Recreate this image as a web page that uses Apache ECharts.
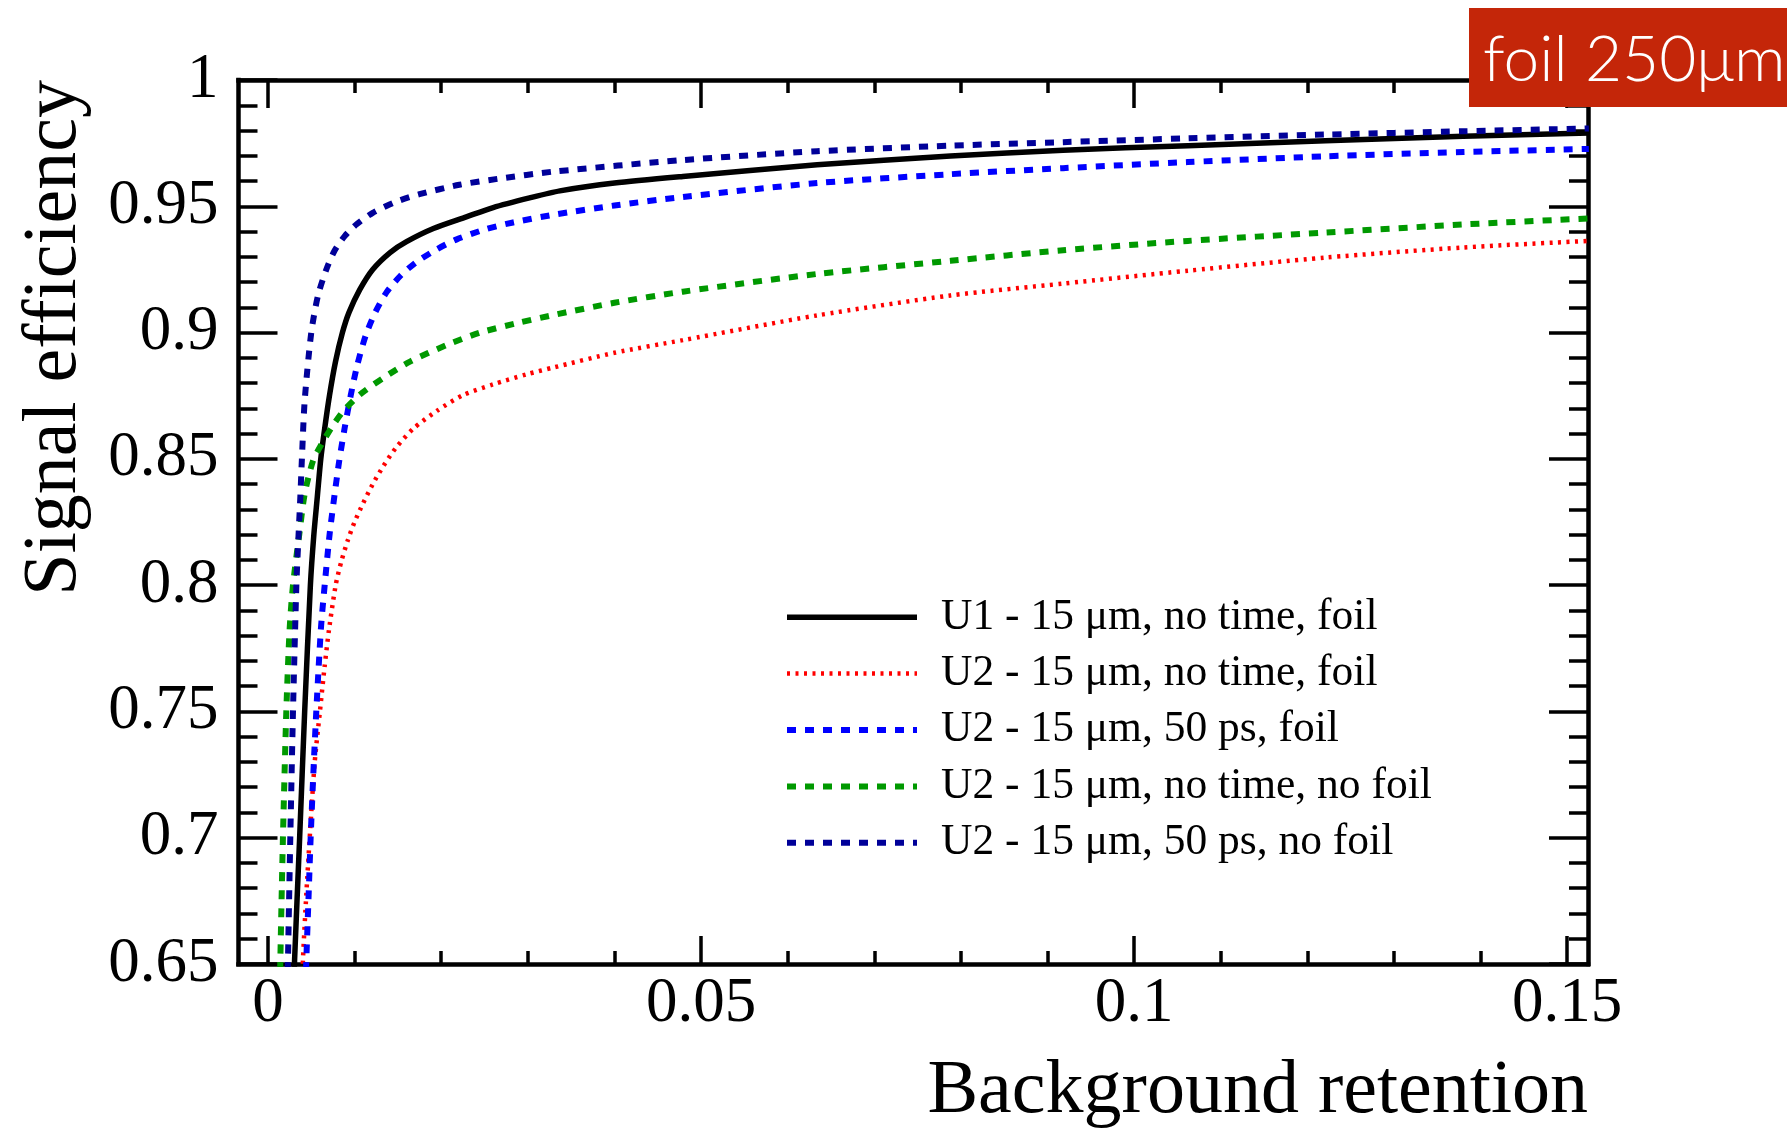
<!DOCTYPE html>
<html>
<head>
<meta charset="utf-8">
<script src="https://cdn.jsdelivr.net/npm/echarts@6/dist/echarts.min.js"></script>
<style>
html,body{margin:0;padding:0;background:#fff;}
#chart{width:1787px;height:1130px;}
</style>
</head>
<body>
<div id="chart"></div>
<script>
// ---- data ([background retention, signal efficiency]) ----
const seriesNames = [
  'U1 - 15 μm, no time, foil',
  'U2 - 15 μm, no time, foil',
  'U2 - 15 μm, 50 ps, foil',
  'U2 - 15 μm, no time, no foil',
  'U2 - 15 μm, 50 ps, no foil'
];
const u1NoTimeFoil = [
  [0.00300,0.640],[0.00308,0.652],[0.00366,0.700],[0.00424,0.750],[0.00490,0.800],
  [0.00530,0.820],[0.00570,0.835],[0.00610,0.850],[0.00655,0.862],[0.00710,0.875],
  [0.00780,0.8885],[0.00860,0.900],[0.00936,0.908],[0.0106,0.917],[0.0121,0.925],
  [0.0141,0.9317],[0.0160,0.9360],[0.0191,0.9412],[0.0229,0.9458],[0.0260,0.9495],
  [0.0302,0.9533],[0.0337,0.9561],[0.0400,0.9592],[0.0479,0.9618],[0.0634,0.9664],
  [0.0788,0.9699],[0.0918,0.9722],[0.1062,0.9740],[0.1221,0.9759],[0.1380,0.9777],
  [0.1525,0.9790]
];
const u2NoTimeFoil = [
  [0.00400,0.640],[0.00404,0.6515],[0.00443,0.6777],[0.00482,0.700],[0.00540,0.730],
  [0.00600,0.750],[0.00655,0.7680],[0.00705,0.7824],[0.00782,0.800],[0.00848,0.8095],
  [0.00924,0.8180],[0.0100,0.8250],[0.0110,0.8325],[0.0121,0.8400],[0.0133,0.8470],
  [0.0148,0.8545],[0.0168,0.8620],[0.0195,0.8690],[0.0225,0.8752],[0.0260,0.8795],
  [0.0299,0.8835],[0.0330,0.8862],[0.0400,0.8920],[0.0479,0.8970],[0.0634,0.9068],
  [0.0788,0.9147],[0.0918,0.9194],[0.1062,0.9245],[0.1221,0.9297],[0.1380,0.9337],
  [0.1525,0.9363]
];
const u2Ps50Foil = [
  [0.00435,0.640],[0.00443,0.6515],[0.00470,0.6777],[0.00493,0.700],[0.00530,0.730],
  [0.00558,0.750],[0.00586,0.768],[0.00614,0.784],[0.00655,0.800],[0.00713,0.8205],
  [0.00770,0.836],[0.00822,0.849],[0.00886,0.8623],[0.00955,0.875],[0.0103,0.887],
  [0.0113,0.899],[0.0124,0.9081],[0.0137,0.916],[0.0153,0.9225],[0.0171,0.9278],
  [0.0195,0.933],[0.0218,0.9369],[0.0252,0.941],[0.0283,0.9436],[0.0329,0.9466],
  [0.0400,0.9503],[0.0479,0.9537],[0.0634,0.9592],[0.0788,0.9627],[0.0918,0.9651],
  [0.1062,0.9675],[0.1221,0.9698],[0.1380,0.9715],[0.1525,0.9727]
];
const u2NoTimeNoFoil = [
  [0.00138,0.640],[0.00143,0.6515],[0.00173,0.700],[0.00212,0.750],[0.00250,0.7824],
  [0.00289,0.800],[0.00358,0.8191],[0.00424,0.8361],[0.00520,0.8492],[0.00617,0.8557],
  [0.00732,0.8623],[0.00870,0.8689],[0.0106,0.8754],[0.0133,0.882],[0.0164,0.8885],
  [0.0206,0.8950],[0.0245,0.9000],[0.0291,0.9040],[0.0333,0.9072],[0.0400,0.9118],
  [0.0479,0.9162],[0.0634,0.9232],[0.0788,0.9284],[0.0918,0.9326],[0.1062,0.9363],
  [0.1221,0.9396],[0.1380,0.9428],[0.1525,0.9452]
];
const u2Ps50NoFoil = [
  [0.00225,0.640],[0.00231,0.6515],[0.00258,0.700],[0.00289,0.750],[0.00328,0.800],
  [0.00347,0.8152],[0.00374,0.835],[0.00392,0.850],[0.00424,0.873],[0.00500,0.900],
  [0.00578,0.9147],[0.00675,0.9251],[0.00770,0.9325],[0.00886,0.9382],[0.0102,0.9428],
  [0.0121,0.9474],[0.0148,0.9518],[0.0175,0.9548],[0.0221,0.9585],[0.0268,0.9610],
  [0.0329,0.9637],[0.0479,0.9683],[0.0634,0.9718],[0.0788,0.9740],[0.0918,0.9754],
  [0.1062,0.9769],[0.1221,0.9784],[0.1380,0.9797],[0.1525,0.9808]
];
const xTickLabels = [0, 0.05, 0.1, 0.15];
const xMajorTicks = [0, 0.05, 0.1, 0.15];
const xMinorTicks = [0.01,0.02,0.03,0.04,0.06,0.07,0.08,0.09,0.11,0.12,0.13,0.14];

// ---- chart ----
const serif = '"Liberation Serif","Times New Roman",Times,serif';
const xMin = -0.0034, xMax = 0.1524;
const axisLineStyle = {color:'#000', width:4.5, cap:'square'};
const tickStyle = {color:'#000', width:3.5};

function xAxisDef(pos, ticks, len, withLine, withLabel) {
  return {
    type:'value', position:pos, min:xMin, max:xMax,
    axisLine:{show:withLine, onZero:false, lineStyle:axisLineStyle},
    axisTick:{show:true, inside:true, length:len, customValues:ticks, lineStyle:tickStyle},
    axisLabel: withLabel ? {show:true, customValues:xTickLabels, margin:9,
      fontFamily:serif, fontSize:63, color:'#000'} : {show:false},
    splitLine:{show:false}
  };
}
const xAxes = [
  xAxisDef('bottom', xMajorTicks, 28, true, true),
  xAxisDef('bottom', xMinorTicks, 13, false, false),
  xAxisDef('top', xMajorTicks, 28, true, false),
  xAxisDef('top', xMinorTicks, 13, false, false)
];
Object.assign(xAxes[0], {
  name:'Background retention', nameLocation:'end', nameGap:0, nameMoveOverlap:false,
  nameTextStyle:{fontFamily:serif, fontSize:76, color:'#000', align:'right',
    verticalAlign:'top', padding:[90,0,0,0]}
});

function yAxisDef(pos, withLabel) {
  return {
    type:'value', position:pos, min:0.65, max:1, interval:0.05,
    axisLine:{show:true, onZero:false, lineStyle:axisLineStyle},
    axisTick:{show:true, inside:true, length:39, lineStyle:tickStyle},
    minorTick:{show:true, splitNumber:5, length:19, lineStyle:tickStyle},
    axisLabel: withLabel ? {show:true, margin:20, fontFamily:serif, fontSize:63, color:'#000'} : {show:false},
    splitLine:{show:false}, minorSplitLine:{show:false}
  };
}
const yAxes = [yAxisDef('left', true), yAxisDef('right', false)];
Object.assign(yAxes[0], {
  name:'Signal efficiency', nameLocation:'end', nameRotate:90, nameGap:0, nameMoveOverlap:false,
  nameTextStyle:{fontFamily:serif, fontSize:76, color:'#000', align:'right',
    verticalAlign:'bottom', padding:[0,0,145,0]}
});

const styles = [
  {color:'#000000', width:5.5, type:'solid'},
  {color:'#FF0000', width:4.5, type:[3,5.5]},
  {color:'#0000FF', width:6, type:[9,9]},
  {color:'#009900', width:6, type:[9,9]},
  {color:'#000099', width:6, type:[9,9]}
];
const datasets = [u1NoTimeFoil, u2NoTimeFoil, u2Ps50Foil, u2NoTimeNoFoil, u2Ps50NoFoil];

const series = datasets.map((d, i) => ({
  name: seriesNames[i], type:'line', data:d, xAxisIndex:0, yAxisIndex:0,
  symbol:'none', smooth:0.25, clip:true,
  lineStyle:{color:styles[i].color, width:styles[i].width, type:styles[i].type},
  itemStyle:{color:styles[i].color},
  emphasis:{disabled:true}, z: 3
}));

const chart = echarts.init(document.getElementById('chart'), null, {renderer:'canvas'});
chart.setOption({
  animation:false,
  backgroundColor:'#fff',
  grid:{left:238.5, right:199, top:80, bottom:158, containLabel:false},
  xAxis: xAxes,
  yAxis: yAxes,
  legend:{
    orient:'vertical', left:784, top:589, padding:0, itemWidth:130, itemHeight:8, itemGap:0,
    data: seriesNames.map((n, i) => ({name:n,
      lineStyle:{width:styles[i].width, type:styles[i].type, color:styles[i].color},
      itemStyle:{opacity:0}})),
    lineStyle:{width:'inherit'},
    itemStyle:{opacity:0},
    textStyle:{fontFamily:serif, fontSize:43.5, color:'#000', lineHeight:56.4, padding:[0,0,0,19]},
    selectedMode:false
  },
  series: series,
  graphic:[
    {type:'rect', x:1469, y:8, shape:{width:318, height:99}, style:{fill:'#C42609'}, z:100},
    {type:'text', x:1483, y:60, z:101,
     style:{text:'foil 250μm', fill:'#ffffff', font:'300 64px Lato, Roboto, "Open Sans", sans-serif',
            textAlign:'left', textVerticalAlign:'middle', align:'left', verticalAlign:'middle'}}
  ]
});
</script>
</body>
</html>
